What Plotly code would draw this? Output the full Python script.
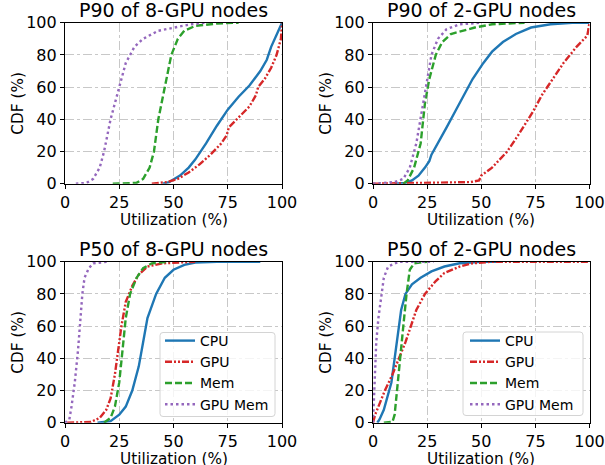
import plotly.graph_objects as go

# ---------------- data (utilization %, CDF %) ----------------
# P90 of 8-GPU nodes
p90_8_cpu_x = [45, 48, 53, 57, 60, 65, 70, 75, 80, 85, 90, 93, 95, 97, 100]
p90_8_cpu_y = [0, 1, 5, 10, 15, 25, 36, 46, 54, 61, 70, 77, 85, 91, 100]
p90_8_gpu_x = [40, 47, 52, 57, 62, 67, 72, 74.5, 75.5, 79, 85, 88, 89, 92, 95, 97.5, 99.5, 100]
p90_8_gpu_y = [0, 1, 3, 7, 12, 18, 25, 30, 35, 40, 48, 55, 60, 65, 72, 80, 90, 100]
p90_8_mem_x = [22, 33, 36, 39, 41, 43, 46, 49, 52, 55, 60, 70, 80]
p90_8_mem_y = [0, 0.5, 3, 10, 20, 40, 60, 80, 90, 95, 98, 99.5, 100]
p90_8_gmem_x = [5, 10, 13, 16, 18, 21, 25, 28, 32, 36, 43, 50, 58, 65]
p90_8_gmem_y = [0, 0.5, 3, 10, 20, 40, 60, 75, 85, 90, 95, 97, 99, 100]

# P90 of 2-GPU nodes
p90_2_cpu_x = [10, 15, 18, 21, 24, 26, 27, 30, 34, 38, 42, 46, 51, 55, 60, 66, 73, 82, 92, 100]
p90_2_cpu_y = [0, 0.5, 2, 5, 10, 14, 18, 25, 35, 45, 55, 65, 75, 82, 88, 93, 97, 99, 100, 100]
p90_2_gpu_x = [0, 30, 45, 49, 50, 55, 62, 67, 74, 78, 83, 88, 94, 99, 100]
p90_2_gpu_y = [0, 0.5, 1, 2, 5, 10, 20, 30, 45, 55, 65, 75, 85, 92, 100]
p90_2_mem_x = [14, 16, 19, 22, 24, 26, 29, 32, 36, 42, 47, 55, 70]
p90_2_mem_y = [0, 2, 10, 25, 50, 65, 80, 88, 93, 95, 97, 99, 100]
p90_2_gmem_x = [0, 10, 14, 17, 20, 22.5, 25, 27, 30, 34, 40, 50]
p90_2_gmem_y = [0, 1, 3, 10, 25, 45, 65, 80, 90, 96, 99, 100]

# P50 of 8-GPU nodes
p50_8_cpu_x = [15, 21, 25, 28, 31, 34, 36, 38, 42, 46, 50, 55, 60, 70, 90]
p50_8_cpu_y = [0, 1, 5, 10, 20, 35, 50, 65, 80, 90, 95, 98, 99.5, 100, 100]
p50_8_gpu_x = [1, 12, 16, 19, 21, 23, 24.5, 26, 28, 31, 34, 38, 45, 60]
p50_8_gpu_y = [0, 0.5, 3, 8, 15, 30, 45, 60, 75, 85, 92, 97, 99, 100]
p50_8_mem_x = [18, 21, 23, 25, 26.5, 28, 30, 33, 36, 40, 48]
p50_8_mem_y = [0, 3, 10, 25, 45, 65, 80, 90, 96, 99, 100]
p50_8_gmem_x = [0, 2, 3, 4.5, 6, 7, 8, 9, 11, 13, 20]
p50_8_gmem_y = [0, 2, 10, 25, 45, 65, 80, 90, 96, 99, 100]

# P50 of 2-GPU nodes
p50_2_cpu_x = [2, 3, 5, 6.5, 8.5, 10, 11.5, 13, 15, 18, 22, 27, 33, 40, 50, 60]
p50_2_cpu_y = [0, 2, 8, 15, 25, 40, 55, 70, 80, 86, 90, 94, 97, 99, 100, 100]
p50_2_gpu_x = [0, 1, 2.5, 5.5, 9, 12, 15, 17.5, 20, 24, 29, 33, 40, 46, 55, 100]
p50_2_gpu_y = [0, 5, 10, 20, 30, 40, 50, 60, 70, 80, 88, 93, 97, 99, 100, 100]
p50_2_mem_x = [5, 9, 10, 11, 12.5, 14, 15.5, 17, 19, 25]
p50_2_mem_y = [0, 0.5, 5, 20, 40, 60, 80, 95, 99, 100]
p50_2_gmem_x = [0, 0.3, 0.7, 1.5, 2.5, 4, 5, 7, 12, 28]
p50_2_gmem_y = [0, 10, 30, 50, 65, 80, 90, 97, 100, 100]

titles = ["P90 of 8-GPU nodes", "P90 of 2-GPU nodes",
          "P50 of 8-GPU nodes", "P50 of 2-GPU nodes"]
series_names = ["CPU", "GPU", "Mem", "GPU Mem"]
x_label = "Utilization (%)"
y_label = "CDF (%)"
x_ticks = [0, 25, 50, 75, 100]
y_ticks = [0, 20, 40, 60, 80, 100]

panels = [
    [(p90_8_cpu_x, p90_8_cpu_y), (p90_8_gpu_x, p90_8_gpu_y), (p90_8_mem_x, p90_8_mem_y), (p90_8_gmem_x, p90_8_gmem_y)],
    [(p90_2_cpu_x, p90_2_cpu_y), (p90_2_gpu_x, p90_2_gpu_y), (p90_2_mem_x, p90_2_mem_y), (p90_2_gmem_x, p90_2_gmem_y)],
    [(p50_8_cpu_x, p50_8_cpu_y), (p50_8_gpu_x, p50_8_gpu_y), (p50_8_mem_x, p50_8_mem_y), (p50_8_gmem_x, p50_8_gmem_y)],
    [(p50_2_cpu_x, p50_2_cpu_y), (p50_2_gpu_x, p50_2_gpu_y), (p50_2_mem_x, p50_2_mem_y), (p50_2_gmem_x, p50_2_gmem_y)],
]

colors = ["#1f77b4", "#d62728", "#2ca02c", "#9467bd"]
dashes = ["solid", "7px,2px,2px,2px,2px,2px", "7px,3px", "2.5px,3px"]

W, H = 605, 465
x_doms = [(65 / W, 282 / W), (373 / W, 589.5 / W)]
y_doms = [(1 - 183.7 / H, 1 - 22.7 / H), (1 - 422.7 / H, 1 - 261.7 / H)]

FONT = "DejaVu Sans"
TICK = 16
LABEL = 15.3
fig = go.Figure()
legend_ids = {2: "legend", 3: "legend2"}

for i, panel in enumerate(panels):
    ax = "" if i == 0 else str(i + 1)
    for j, (xs, ys) in enumerate(panel):
        if i in legend_ids:
            kw = dict(legend=legend_ids[i], showlegend=True)
        else:
            kw = dict(showlegend=False)
        fig.add_trace(go.Scatter(
            x=xs, y=ys, mode="lines", name=series_names[j],
            line=dict(color=colors[j], width=2.4, dash=dashes[j]),
            xaxis="x" + ax, yaxis="y" + ax, **kw))

    r, c = divmod(i, 2)
    axis_common = dict(
        showline=True, linecolor="black", linewidth=1.2, mirror=True,
        ticks="outside", ticklen=4, tickcolor="black", automargin=False,
        showgrid=True, gridcolor="#c8c8c8", griddash="dashdot", gridwidth=1,
        zeroline=False, tickfont=dict(family=FONT, size=TICK, color="black"),
    )
    fig.layout["xaxis" + ax] = dict(
        axis_common, domain=list(x_doms[c]), range=[0, 100], tickvals=x_ticks,
        anchor="y" + ax)
    fig.layout["yaxis" + ax] = dict(
        axis_common, domain=list(y_doms[r]), range=[0, 100], tickvals=y_ticks,
        anchor="x" + ax)

    xc = (x_doms[c][0] + x_doms[c][1]) / 2
    # subplot title
    fig.add_annotation(
        text=titles[i], xref="paper", yref="paper",
        x=xc, y=y_doms[r][1],
        xanchor="center", yanchor="bottom", yshift=0, showarrow=False,
        font=dict(family=FONT, size=19, color="black"))
    # x-axis label below the axis line
    fig.add_annotation(
        text=x_label, xref="paper", yref="paper",
        x=xc, y=y_doms[r][0], yshift=-36,
        xanchor="center", yanchor="middle", showarrow=False,
        font=dict(family=FONT, size=LABEL, color="black"))
    # y-axis label left of the axis line
    fig.add_annotation(
        text=y_label, xref="paper", yref="paper", textangle=-90,
        x=x_doms[c][0], xshift=-46.5, y=(y_doms[r][0] + y_doms[r][1]) / 2,
        xanchor="center", yanchor="middle", showarrow=False,
        font=dict(family=FONT, size=LABEL, color="black"))


# legend frames (rounded, semi-transparent white like matplotlib)
def rounded_box(x0, y0, x1, y1, rad=3):
    X0, X1 = x0 / W, x1 / W
    Y0, Y1 = 1 - y1 / H, 1 - y0 / H
    rx, ry = rad / W, rad / H
    return (f"M {X0+rx},{Y0} L {X1-rx},{Y0} Q {X1},{Y0} {X1},{Y0+ry} "
            f"L {X1},{Y1-ry} Q {X1},{Y1} {X1-rx},{Y1} L {X0+rx},{Y1} "
            f"Q {X0},{Y1} {X0},{Y1-ry} L {X0},{Y0+ry} Q {X0},{Y0} {X0+rx},{Y0} Z")


for (bx0, by0, bx1, by1) in [(160, 332.5, 275, 416.5), (463, 332, 583, 415.5)]:
    fig.add_shape(type="path", path=rounded_box(bx0, by0, bx1, by1),
                  xref="paper", yref="paper", layer="above",
                  fillcolor="rgba(255,255,255,0.8)",
                  line=dict(color="#d4d4d4", width=1))

legend_style = dict(
    bgcolor="rgba(0,0,0,0)", borderwidth=0,
    font=dict(family=FONT, size=14, color="black"),
    xanchor="left", yanchor="top", tracegroupgap=0, itemwidth=30,
)
fig.update_layout(
    width=W, height=H, margin=dict(l=0, r=0, t=0, b=0),
    paper_bgcolor="white", plot_bgcolor="white",
    font=dict(family=FONT, size=TICK, color="black"),
    legend=dict(legend_style, x=160 / W, y=1 - 325 / H),
    legend2=dict(legend_style, x=465 / W, y=1 - 325 / H),
)

fig.write_html("out.html", config={"displayModeBar": False},
               post_script="document.body.style.margin='0';document.body.style.padding='0';")
